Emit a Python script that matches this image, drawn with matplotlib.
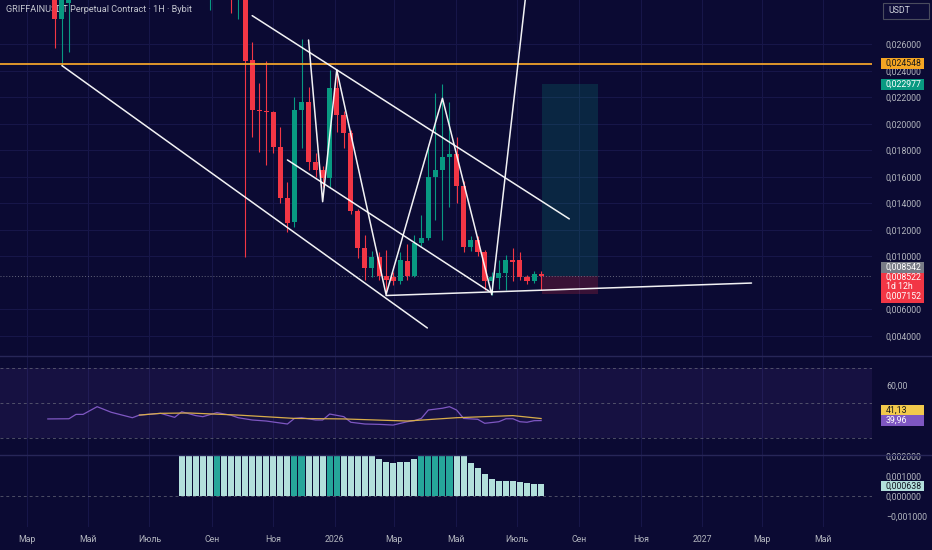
import numpy as np
import matplotlib
matplotlib.use("Agg")
import matplotlib.pyplot as plt
import matplotlib.dates as mdates
from matplotlib.patches import Rectangle
from matplotlib.lines import Line2D
from matplotlib.ticker import FuncFormatter, FixedLocator

plt.rcParams["font.family"] = ["Roboto", "DejaVu Sans"]

# ---------------- data ----------------
title = "GRIFFAINUSDT Perpetual Contract · 1H · Bybit"

first_candle = np.datetime64("2025-03-22")
candle_dates = np.arange(first_candle, first_candle + np.timedelta64(71 * 7, "D"), np.timedelta64(7, "D"))

opens = [0.0315, 0.0303, 0.02789, 0.0291, 0.0318, 0.0338, 0.0330, 0.0365, 0.0390, 0.0370,
         0.0352, 0.0338, 0.0325, 0.0342, 0.0350, 0.0346, 0.0360, 0.0352, 0.0336, 0.0324,
         0.0346, 0.0332, 0.0318, 0.0318, 0.0338, 0.0328, 0.0312, 0.0300, 0.0316, 0.02479,
         0.02104, 0.02098, 0.02087, 0.01827, 0.01438, 0.01261, 0.02104, 0.02167, 0.01709, 0.01651,
         0.01589, 0.02268, 0.02066, 0.01928, 0.01344, 0.0106, 0.00909, 0.00992, 0.0085, 0.0084,
         0.0081, 0.00967, 0.00851, 0.01102, 0.0114, 0.01596, 0.01651, 0.01752, 0.0177, 0.01531,
         0.01072, 0.01123, 0.01035, 0.0081, 0.00835, 0.00872, 0.00972, 0.00972, 0.00847, 0.00816,
         0.00864]
highs = [0.0320, 0.0308, 0.0302, 0.0325, 0.0345, 0.0352, 0.0372, 0.0398, 0.0402, 0.0378,
         0.0360, 0.0342, 0.0348, 0.0356, 0.0362, 0.0368, 0.0372, 0.0356, 0.0341, 0.0352,
         0.0350, 0.0336, 0.0340, 0.0345, 0.0352, 0.0341, 0.0318, 0.0322, 0.0322, 0.0262,
         0.02306, 0.02474, 0.0210, 0.01978, 0.01563, 0.02205, 0.02638, 0.0228, 0.0178, 0.0168,
         0.02406, 0.02406, 0.0210, 0.0195, 0.0136, 0.0116, 0.0104, 0.01035, 0.01047, 0.0088,
         0.0103, 0.0109, 0.0116, 0.01312, 0.01827, 0.0223, 0.0230, 0.02167, 0.01898, 0.0157,
         0.0115, 0.0115, 0.0105, 0.0088, 0.00972, 0.0101, 0.0106, 0.0103, 0.0086, 0.0089,
         0.0089]
lows = [0.0298, 0.02574, 0.02439, 0.0254, 0.0305, 0.0322, 0.0326, 0.0358, 0.0362, 0.0345,
        0.0331, 0.0318, 0.0320, 0.0336, 0.0340, 0.0342, 0.0348, 0.0330, 0.0318, 0.0320,
        0.0328, 0.0312, 0.0310, 0.02859, 0.0322, 0.0306, 0.02834, 0.02791, 0.00997, 0.01903,
        0.0179, 0.01689, 0.0178, 0.0140, 0.01186, 0.01223, 0.01815, 0.01651, 0.0160, 0.01525,
        0.01525, 0.0194, 0.01815, 0.0132, 0.00985, 0.00822, 0.0084, 0.0082, 0.0072, 0.0078,
        0.0079, 0.00822, 0.0084, 0.0108, 0.01123, 0.01274, 0.01123, 0.01374, 0.0140, 0.01035,
        0.0104, 0.0100, 0.00746, 0.0071, 0.0075, 0.00746, 0.0081, 0.0082, 0.0079, 0.0080,
        0.00746]
closes = [0.0303, 0.02789, 0.0298, 0.0318, 0.0338, 0.0330, 0.0365, 0.0390, 0.0370, 0.0352,
          0.0338, 0.0325, 0.0342, 0.0350, 0.0346, 0.0360, 0.0352, 0.0336, 0.0324, 0.0346,
          0.0332, 0.0318, 0.0334, 0.0338, 0.0328, 0.0312, 0.0300, 0.0316, 0.02474, 0.02104,
          0.02098, 0.02087, 0.01827, 0.01438, 0.01253, 0.02104, 0.02167, 0.01709, 0.01651, 0.01589,
          0.02268, 0.02066, 0.01928, 0.01344, 0.0106, 0.00909, 0.00997, 0.0085, 0.00822, 0.0081,
          0.00972, 0.00851, 0.01102, 0.0114, 0.01596, 0.01651, 0.01752, 0.0177, 0.01531, 0.01072,
          0.01123, 0.01035, 0.0081, 0.00842, 0.00872, 0.00972, 0.0096, 0.00847, 0.00816, 0.00864,
          0.008522]

# RSI (candle index, value) and its moving average
rsi_idx = [0, 3, 4, 5, 7, 9, 12, 13, 16, 18, 19, 21, 22, 24, 26, 27, 29, 31, 34, 35, 36, 38, 39,
           40, 42, 43, 45, 47, 49, 51, 52, 53, 54, 56, 57, 58, 59, 61, 62, 64, 65, 66, 67, 68, 69, 70]
rsi_val = [40.9, 41.0, 43.5, 43.5, 47.9, 44.7, 41.6, 43.1, 44.1, 41.8, 45.0, 42.8, 42.2, 44.5, 43.0,
           41.6, 40.3, 39.7, 38.0, 41.2, 41.6, 40.3, 40.3, 43.7, 42.2, 39.0, 38.0, 37.8, 37.4, 39.3,
           39.9, 41.2, 46.0, 47.0, 47.9, 46.0, 41.2, 40.7, 38.4, 39.3, 41.0, 41.0, 39.3, 39.0, 39.9, 39.96]
ma_idx = [13, 16, 20, 27, 35, 42, 51, 58, 66, 70]
ma_val = [43.1, 44.1, 44.3, 43.1, 41.2, 40.9, 39.7, 41.6, 42.8, 41.13]

# MACD histogram, starts at candle 19
hist_start = 19
hist_val = [0.0023] * 28 + [0.00187, 0.00175, 0.00167, 0.00175, 0.00175, 0.00189] + [0.0023] * 7 + \
           [0.0017, 0.00142, 0.00114, 0.00087, 0.00075, 0.00075, 0.00075, 0.0007, 0.00066, 0.00064, 0.00064]
hist_dark = [5, 16, 17, 21, 22, 34, 35, 36, 37, 38]
hist_last = 0.000638

# drawings
level_line = 0.024548
channel_low = (["2025-04-05", "2026-04-03"], [0.02439, 0.00459])
channel_up = (["2025-10-11", "2026-08-22"], [0.02816, 0.01282])
channel_mid = (["2025-11-15", "2026-06-04"], [0.01727, 0.00733])
zigzag = (["2025-12-06", "2025-12-20", "2026-01-03", "2026-02-21", "2026-04-18", "2026-06-06", "2026-07-12"],
          [0.02632, 0.01412, 0.02406, 0.00711, 0.02192, 0.0071, 0.0312])
base_line = (["2026-02-21", "2027-02-19"], [0.00704, 0.00798])

pos_dates = ["2026-07-26", "2026-09-20"]
pos_entry, pos_target, pos_stop = 0.008522, 0.022977, 0.007152
last_label = 0.008542

month_dates = ["2025-03-01", "2025-05-01", "2025-07-01", "2025-09-01", "2025-11-01", "2026-01-01",
               "2026-03-01", "2026-05-01", "2026-07-01", "2026-09-01", "2026-11-01", "2027-01-01",
               "2027-03-01", "2027-05-01"]
month_labels = ["Мар", "Май", "Июль", "Сен", "Ноя", "2026", "Мар", "Май", "Июль", "Сен", "Ноя", "2027",
                "Мар", "Май"]

price_ticks = [0.004, 0.006, 0.010, 0.012, 0.014, 0.016, 0.018, 0.020, 0.022, 0.024, 0.026]
hist_ticks = [0.002, 0.001, 0.0, -0.001]

# ---------------- style ----------------
W, H = 932, 550
BG = "#0b0a33"
GRID = "#18174a"
TXT = "#b2b5be"
UP, DOWN = "#089981", "#f23645"
FS = 6.3

fig = plt.figure(figsize=(W / 100, H / 100), dpi=100, facecolor=BG)
ax = fig.add_axes([0, 1 - 356 / H, 872 / W, 356 / H])
ax_rsi = fig.add_axes([0, 1 - 455 / H, 872 / W, 99 / H])
ax_h = fig.add_axes([0, 1 - 527 / H, 872 / W, 72 / H])

def d(s):
    return mdates.date2num(np.array(s, dtype="datetime64[D]"))

t0 = d("2025-03-01")
mx = d(month_dates)
for a in (ax, ax_rsi, ax_h):
    a.set_facecolor(BG)
    for sp in a.spines.values():
        sp.set_visible(False)
    a.set_xlim(t0 - 26.5, t0 + 839.7)
    a.xaxis.set_major_locator(FixedLocator(mx))
    a.grid(axis="x", color=GRID, lw=0.7)
    a.yaxis.tick_right()
    a.tick_params(axis="y", length=0, pad=10, labelsize=FS, labelcolor=TXT)
    a.tick_params(axis="x", length=0, labelbottom=False)
    a.set_axisbelow(True)

# main price pane
x = mdates.date2num(candle_dates)
o, hi, lo, c = map(np.array, (opens, highs, lows, closes))
col = np.where(c >= o, UP, DOWN)
ax.vlines(x, lo, hi, colors=col, lw=0.8, zorder=3)
ax.bar(x, np.maximum(np.abs(c - o), 0.00008), bottom=np.minimum(o, c), width=5, color=col, zorder=4)

ax.set_ylim(0.002475, 0.02934)
ax.yaxis.set_major_locator(FixedLocator(price_ticks))
ax.yaxis.set_major_formatter(FuncFormatter(lambda v, p: f"{v:.6f}".replace(".", ",")))
ax.grid(axis="y", color=GRID, lw=0.7)

ax.text(6 / 872, 1 - 10 / 356, title, transform=ax.transAxes, color="#c4c6cf", fontsize=6.6,
        va="center", ha="left", zorder=1)

px0, px1 = d(pos_dates)
ax.add_patch(Rectangle((px0, pos_entry), px1 - px0, pos_target - pos_entry, facecolor=UP, alpha=0.2,
                       edgecolor="none", zorder=2))
ax.add_patch(Rectangle((px0, pos_stop), px1 - px0, pos_entry - pos_stop, facecolor=DOWN, alpha=0.2,
                       edgecolor="none", zorder=2))

ax.axhline(level_line, color="#f0a12b", lw=1.3, zorder=5)
ax.axhline(pos_entry, color="#8a8d9a", lw=0.7, ls=(0, (1, 2)), alpha=0.7, zorder=2)
for dates, prices in (channel_low, channel_up, channel_mid, zigzag, base_line):
    ax.plot(d(dates), prices, color="white", lw=1.1, alpha=0.95, zorder=6, solid_capstyle="round")

# RSI pane
ax_rsi.set_ylim(20.29, 76.86)
ax_rsi.axhspan(30, 70, color="#7e57c2", alpha=0.1, lw=0)
for lvl in (70, 50, 30):
    ax_rsi.axhline(lvl, color="#787b86", lw=0.7, ls=(0, (3, 3)), alpha=0.6)
ax_rsi.plot(x[rsi_idx], rsi_val, color="#7e57c2", lw=0.9, zorder=3)
ax_rsi.plot(x[ma_idx], ma_val, color="#d8ad4a", lw=0.9, zorder=4)
ax_rsi.yaxis.set_major_locator(FixedLocator([60, 40]))
ax_rsi.yaxis.set_major_formatter(FuncFormatter(lambda v, p: f"{v:.2f}".replace(".", ",")))

# MACD histogram pane
hx = x[hist_start:]
hcol = ["#26a69a" if i in hist_dark else "#b2dfdb" for i in range(len(hist_val))]
ax_h.axhline(0, color="#787b86", lw=0.7, ls=(0, (3, 3)), alpha=0.6, zorder=1)
ax_h.bar(hx, hist_val, width=6, color=hcol, zorder=3)
ax_h.set_ylim(-0.00155, 0.002085)
ax_h.yaxis.set_major_locator(FixedLocator(hist_ticks))
ax_h.yaxis.set_major_formatter(FuncFormatter(lambda v, p: f"{v:.6f}".replace(".", ",").replace("-", "−")
                                             if abs(v) > 1e-12 else "0,000000"))
ax_h.set_xticks(mx)
ax_h.set_xticklabels(month_labels)
ax_h.tick_params(axis="x", labelbottom=True, labelsize=FS, labelcolor=TXT, pad=6)

# pane separators
for yy in (356, 455):
    fig.add_artist(Line2D([0, 1], [1 - yy / H, 1 - yy / H], transform=fig.transFigure, color="#272658", lw=1))

# price tags on the scale
def tag(a, value, text, bg, fg, dy=0.0, h=10.5):
    yc = a.transData.transform((0, value))[1] + dy
    fig.add_artist(Rectangle((881 / W, (yc - h / 2) / H), 43 / W, h / H, transform=fig.transFigure,
                             facecolor=bg, edgecolor="none", zorder=5))
    fig.text(885.5 / W, yc / H, text, color=fg, fontsize=FS, ha="left", va="center", zorder=6)

def fmt(v):
    return f"{v:.6f}".replace(".", ",")

fig.add_artist(Rectangle((882.5 / W, 1 - 18.5 / H), 46 / W, 16 / H, transform=fig.transFigure,
                         facecolor="#0e0d38", edgecolor="#4a4c5e", lw=0.8, zorder=5))
fig.text(888 / W, 1 - 10.5 / H, "USDT", color="#d1d4dc", fontsize=FS, ha="left", va="center", zorder=6)

tag(ax, level_line, fmt(level_line), "#f5a623", "#1a1a1a")
tag(ax, pos_target, fmt(pos_target), UP, "white")
tag(ax, last_label, fmt(last_label), "#787b86", "white", dy=8.3)

ye = ax.transData.transform((0, pos_entry))[1]
fig.add_artist(Rectangle((881 / W, (ye - 26.8) / H), 43 / W, 29.4 / H, transform=fig.transFigure,
                         facecolor=DOWN, edgecolor="none", zorder=5))
for dy, s in ((-1.1, fmt(pos_entry)), (-10.8, "1d 12h"), (-20.8, fmt(pos_stop))):
    fig.text(885.5 / W, (ye + dy) / H, s, color="white", fontsize=FS, ha="left", va="center", zorder=6)

tag(ax_rsi, ma_val[-1], f"{ma_val[-1]:.2f}".replace(".", ","), "#f2c94c", "#1a1a1a", dy=8.2)
tag(ax_rsi, rsi_val[-1], f"{rsi_val[-1]:.2f}".replace(".", ","), "#7e57c2", "white")
tag(ax_h, hist_last, fmt(hist_last), "#b2dfdb", "#131722", dy=-2.2, h=10)

fig.savefig("out.png", dpi=100, facecolor=BG)
